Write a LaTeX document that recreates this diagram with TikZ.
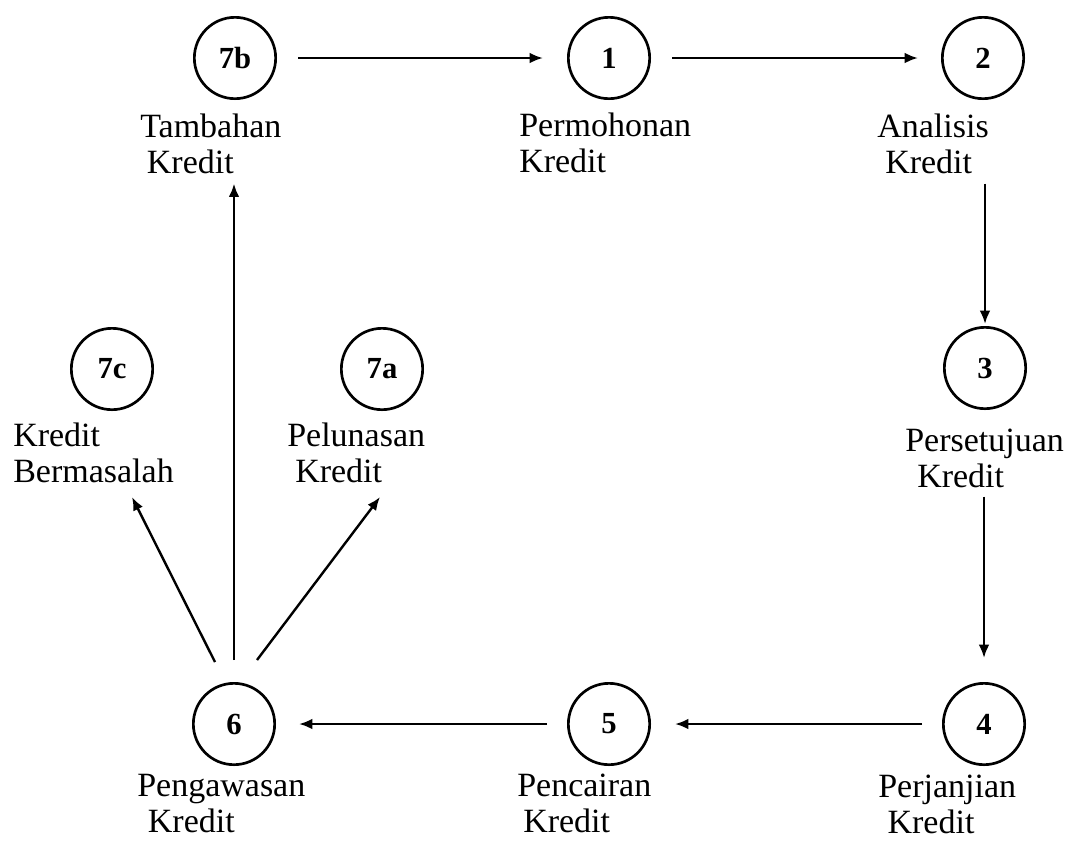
\documentclass[tikz,border=0pt]{standalone}
\usepackage{fontspec}
\setmainfont{Liberation Serif}
\usetikzlibrary{arrows.meta}

\tikzset{
  stage/.style={draw,shape=circle,line width=2pt,minimum size=61pt,inner sep=0pt,
    font=\fontsize{23}{26}\selectfont\bfseries},
  caption/.style={anchor=base west,align=left,inner sep=0pt,
    font=\fontsize{25.5}{27}\selectfont},
  flow/.style={-{Latex[length=10pt,width=8pt]},line width=1.8pt},
}

\begin{document}
\begin{tikzpicture}[x=0.75pt,y=-0.75pt]
  \useasboundingbox (0,0) rectangle (1069,840);
  % circles
  \node[stage] (tambahan) at (235,58) {7b};
  \node[stage] (permohonan) at (609,58) {1};
  \node[stage] (analisis) at (983,58) {2};
  \node[stage] (bermasalah) at (112,369) {7c};
  \node[stage] (pelunasan) at (382,369) {7a};
  \node[stage] (persetujuan) at (985,368) {3};
  \node[stage] (pengawasan) at (234,724) {6};
  \node[stage] (pencairan) at (609,724) {5};
  \node[stage] (perjanjian) at (984,724) {4};
  % captions (placed at the baseline of the last line)
  \node[caption] (tambahan-txt) at (140,173) {Tambahan\\\hspace*{5pt}Kredit};
  \node[caption] (permohonan-txt) at (519,172) {Permohonan\\Kredit};
  \node[caption] (analisis-txt) at (877,173) {Analisis\\\hspace*{6pt}Kredit};
  \node[caption] (bermasalah-txt) at (13,482) {Kredit\\Bermasalah};
  \node[caption] (pelunasan-txt) at (287,482) {Pelunasan\\\hspace*{6pt}Kredit};
  \node[caption] (persetujuan-txt) at (905,487) {Persetujuan\\\hspace*{9pt}Kredit};
  \node[caption] (pengawasan-txt) at (137,832) {Pengawasan\\\hspace*{8pt}Kredit};
  \node[caption] (pencairan-txt) at (517,832) {Pencairan\\\hspace*{4.5pt}Kredit};
  \node[caption] (perjanjian-txt) at (878,833) {Perjanjian\\\hspace*{7pt}Kredit};
  % flow
  \draw[flow,shorten <=15.75pt,shorten >=18pt] (tambahan) -- (permohonan);
  \draw[flow,shorten <=15.75pt,shorten >=17.25pt] (permohonan) -- (analisis);
  \draw[flow,shorten <=7.5pt,shorten >=1.5pt] (analisis-txt.south -| persetujuan) -- (persetujuan);
  \draw[flow,shorten <=6.75pt,shorten >=18pt] (persetujuan-txt.south -| perjanjian) -- (perjanjian);
  \draw[flow,shorten <=15pt,shorten >=18pt] (perjanjian) -- (pencairan);
  \draw[flow,shorten <=15pt,shorten >=17.25pt] (pencairan) -- (pengawasan);
  \draw[flow,shorten <=16.5pt,shorten >=7.5pt] (pengawasan) -- (tambahan-txt.south -| pengawasan);
  \draw[flow] ([shift={(-19,-62)}]pengawasan.center) -- ([shift={(119,15)}]bermasalah-txt.base west);
  \draw[flow] ([shift={(23,-64)}]pengawasan.center) -- ([shift={(93,15)}]pelunasan-txt.base west);
\end{tikzpicture}
\end{document}
